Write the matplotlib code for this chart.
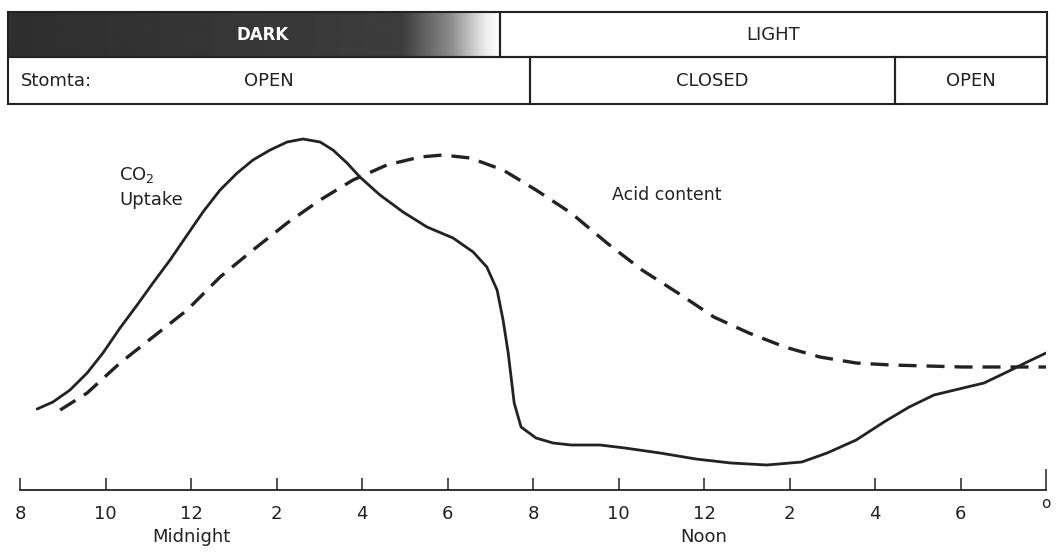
import matplotlib.pyplot as plt
import numpy as np
from matplotlib.patches import Rectangle
import matplotlib.transforms as mtransforms

# time axis in hours: 20 = 8 pm, 24 = midnight, 36 = noon, 44 = 8 pm next day
co2_hours = [20.40, 20.77, 21.17, 21.57, 21.94, 22.34, 22.74, 23.11, 23.51, 23.91,
             24.28, 24.68, 25.08, 25.45, 25.85, 26.25, 26.62, 27.02, 27.32, 27.65,
             27.95, 28.42, 28.96, 29.52, 30.13, 30.60, 30.92, 31.16, 31.30, 31.42,
             31.56, 31.72, 32.07, 32.47, 32.89, 33.57, 34.15, 34.97, 35.81, 36.63,
             37.47, 38.29, 38.88, 39.56, 40.21, 40.80, 41.38, 42.06, 42.55, 43.04,
             43.56, 44.05]
co2_uptake = [81, 88, 100, 117, 137, 162, 185, 207, 230, 255,
              278, 300, 317, 330, 340, 348, 351, 348, 340, 327,
              313, 295, 278, 263, 252, 238, 223, 200, 170, 137,
              87, 63, 52, 47, 45, 45, 42, 37, 31, 27,
              25, 28, 37, 50, 68, 83, 95, 102, 107, 117,
              128, 138]

acid_hours = [20.94, 21.57, 22.34, 23.11, 23.91, 24.68, 25.45, 26.25, 27.02, 27.79,
              28.58, 29.36, 29.89, 30.53, 31.30, 32.07, 32.89, 33.73, 34.55, 35.39,
              36.23, 37.05, 37.89, 38.71, 39.56, 40.37, 41.22, 42.06, 42.88, 44.00]
acid_content = [80, 97, 127, 153, 180, 213, 240, 267, 290, 310,
                325, 333, 335, 332, 320, 300, 277, 247, 220, 197,
                173, 157, 143, 133, 127, 125, 124, 123, 123, 123]

tick_hours = list(range(20, 45, 2))
tick_labels = ['8', '10', '12', '2', '4', '6', '8', '10', '12', '2', '4', '6', 'o']

light_phases = ['DARK', 'LIGHT']
light_edges = [19.72, 31.23, 44.02]
stomata_phases = ['OPEN', 'CLOSED', 'OPEN']
stomata_edges = [19.72, 31.93, 40.47, 44.02]

ink = '#222222'
plt.rcParams['font.family'] = ['DejaVu Sans']

fig = plt.figure(figsize=(10.57, 5.55), dpi=100)
ax = fig.add_axes([20 / 1057, 65 / 555, 1026 / 1057, 380 / 555])
ax.set_xlim(20, 44)
ax.set_ylim(0, 380)

ax.plot(co2_hours, co2_uptake, '-', color=ink, lw=2.0, solid_capstyle='round')
ax.plot(acid_hours, acid_content, '--', color=ink, lw=2.4, dashes=(5.4, 3.0))

for s in ['top', 'left', 'right']:
    ax.spines[s].set_visible(False)
ax.spines['bottom'].set_linewidth(1.3)
ax.spines['bottom'].set_color(ink)
ax.set_yticks([])
ax.set_xticks(tick_hours)
ax.set_xticklabels(tick_labels)
ax.tick_params(axis='x', direction='in', length=9, width=1.1, pad=11,
               labelsize=13, colors=ink)
last = ax.xaxis.get_major_ticks()[-1]
last.tick1line.set_markersize(15)
lbl = ax.get_xticklabels()[-1]
lbl.set_fontsize(11)
lbl.set_transform(lbl.get_transform() + mtransforms.ScaledTranslation(0, 7 / 72, fig.dpi_scale_trans))

ax.annotate('Midnight', xy=(24, 0), xycoords=('data', 'axes fraction'), xytext=(0, -34),
            textcoords='offset points', ha='center', va='center', fontsize=13, color=ink)
ax.annotate('Noon', xy=(36, 0), xycoords=('data', 'axes fraction'), xytext=(0, -34),
            textcoords='offset points', ha='center', va='center', fontsize=13, color=ink)

ax.text(22.32, 315, 'CO$_2$', fontsize=13, color=ink, ha='left', va='center')
ax.text(22.32, 290, 'Uptake', fontsize=13, color=ink, ha='left', va='center')
ax.text(33.85, 295, 'Acid content', fontsize=12.5, color=ink, ha='left', va='center')

# header bars (light regime and stomata state)
hd = fig.add_axes([20 / 1057, (555 - 104) / 555, 1026 / 1057, 92 / 555])
hd.set_xlim(20, 44)
hd.set_ylim(104, 12)
hd.axis('off')

g = np.linspace(0, 1, 400)
shade = np.interp(g, [0, 0.8, 0.9, 0.97, 1.0], [0.18, 0.24, 0.55, 0.93, 1.0])
im = hd.imshow(shade[np.newaxis, :], cmap='gray', vmin=0, vmax=1, aspect='auto',
               extent=(light_edges[0], light_edges[1], 57, 12), interpolation='bilinear')
im.set_clip_on(False)
hd.set_xlim(20, 44)
hd.set_ylim(104, 12)

for i, name in enumerate(light_phases):
    l, r = light_edges[i], light_edges[i + 1]
    hd.add_patch(Rectangle((l, 12), r - l, 45, fill=False, ec=ink, lw=1.5, clip_on=False))
    if name == 'DARK':
        hd.text((l + r) / 2 + 0.2, 34.5, name, ha='center', va='center', fontsize=12,
                fontweight='bold', color='white')
    else:
        hd.text((l + r) / 2, 34.5, name, ha='center', va='center', fontsize=13, color=ink)

for i, name in enumerate(stomata_phases):
    l, r = stomata_edges[i], stomata_edges[i + 1]
    hd.add_patch(Rectangle((l, 57), r - l, 47, fill=False, ec=ink, lw=1.5, clip_on=False))
    hd.text((l + r) / 2, 80.5, name, ha='center', va='center', fontsize=13, color=ink)
hd.text(20.03, 80.5, 'Stomta:', ha='left', va='center', fontsize=13, color=ink)

fig.savefig('out.png', dpi=100)
